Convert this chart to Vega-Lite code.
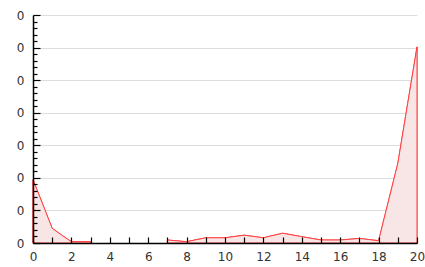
{
  "$schema": "https://vega.github.io/schema/vega-lite/v6.json",
  "width": 384,
  "height": 228,
  "autosize": "none",
  "padding": {"left": 33, "top": 15, "right": 8, "bottom": 24},
  "background": "white",
  "config": {
    "view": {"stroke": null},
    "axis": {"labelFont": "DejaVu Sans", "labelFontSize": 12, "labelColor": "#333333", "domainColor": "#000000", "tickColor": "#000000", "domainWidth": 1.5, "tickWidth": 1.2}
  },
  "resolve": {"axis": {"x": "independent", "y": "independent"}, "scale": {"x": "shared", "y": "shared"}},
  "data": {"values": [
    {"x": 0, "y": 0.097, "seg": "a"},
    {"x": 0.5, "y": 0.06, "seg": "a"},
    {"x": 1, "y": 0.0225, "seg": "a"},
    {"x": 1.5, "y": 0.012, "seg": "a"},
    {"x": 2, "y": 0.002, "seg": "a"},
    {"x": 3, "y": 0.002, "seg": "a"},
    {"x": 7, "y": 0.0046, "seg": "b"},
    {"x": 8, "y": 0.002, "seg": "b"},
    {"x": 9, "y": 0.008, "seg": "b"},
    {"x": 10, "y": 0.008, "seg": "b"},
    {"x": 11, "y": 0.012, "seg": "b"},
    {"x": 12, "y": 0.008, "seg": "b"},
    {"x": 13, "y": 0.015, "seg": "b"},
    {"x": 14, "y": 0.0097, "seg": "b"},
    {"x": 15, "y": 0.0046, "seg": "b"},
    {"x": 16, "y": 0.0046, "seg": "b"},
    {"x": 17, "y": 0.007, "seg": "b"},
    {"x": 18, "y": 0.0035, "seg": "b"},
    {"x": 19, "y": 0.122, "seg": "b"},
    {"x": 20, "y": 0.301, "seg": "b"}
  ]},
  "layer": [
    {
      "mark": {"type": "area", "fill": "#f8e6e6", "fillOpacity": 1, "stroke": "#ff4040", "strokeWidth": 1, "interpolate": "linear"},
      "encoding": {
        "x": {"field": "x", "type": "quantitative", "scale": {"domain": [0, 20], "nice": false, "zero": false},
          "axis": {"orient": "bottom", "title": null, "grid": false, "domain": false, "ticks": false, "labels": false, "zindex": 0}},
        "y": {"field": "y", "type": "quantitative", "stack": null, "scale": {"domain": [0, 0.35], "nice": false},
          "axis": {"orient": "left", "title": null, "values": [0.05,0.1,0.15,0.2,0.25,0.3,0.35], "grid": true, "gridColor": "#dddddd", "gridWidth": 1,
            "domain": false, "ticks": false, "labels": false, "zindex": 0}},
        "detail": {"field": "seg"}
      }
    },
    {
      "mark": {"type": "area", "fill": "#f8e6e6", "fillOpacity": 1, "stroke": "#ff4040", "strokeWidth": 1, "interpolate": "linear"},
      "encoding": {
        "x": {"field": "x", "type": "quantitative",
          "axis": {"orient": "bottom", "title": null, "grid": false, "zindex": 2, "values": [0,1,2,3,4,5,6,7,8,9,10,11,12,13,14,15,16,17,18,19,20],
            "labelExpr": "datum.value % 2 == 0 ? datum.label : ''", "tickSize": -6, "labelPadding": 14, "labelFlush": false, "labelOverlap": false}},
        "y": {"field": "y", "type": "quantitative", "stack": null,
          "axis": {"orient": "left", "title": null, "grid": false, "zindex": 2, "values": [0,0.01,0.02,0.03,0.04,0.05,0.06,0.07,0.08,0.09,0.1,0.11,0.12,0.13,0.14,0.15,0.16,0.17,0.18,0.19,0.2,0.21,0.22,0.23,0.24,0.25,0.26,0.27,0.28,0.29,0.3,0.31,0.32,0.33,0.34,0.35],
            "labelExpr": "round(datum.value*100) % 5 == 0 ? '0' : ''",
            "tickSize": {"condition": {"test": "round(datum.value*100) % 5 == 0", "value": -7}, "value": -4},
            "labelPadding": 16, "labelOverlap": false, "labelFlush": false}},
        "detail": {"field": "seg"}
      }
    }
  ]
}
